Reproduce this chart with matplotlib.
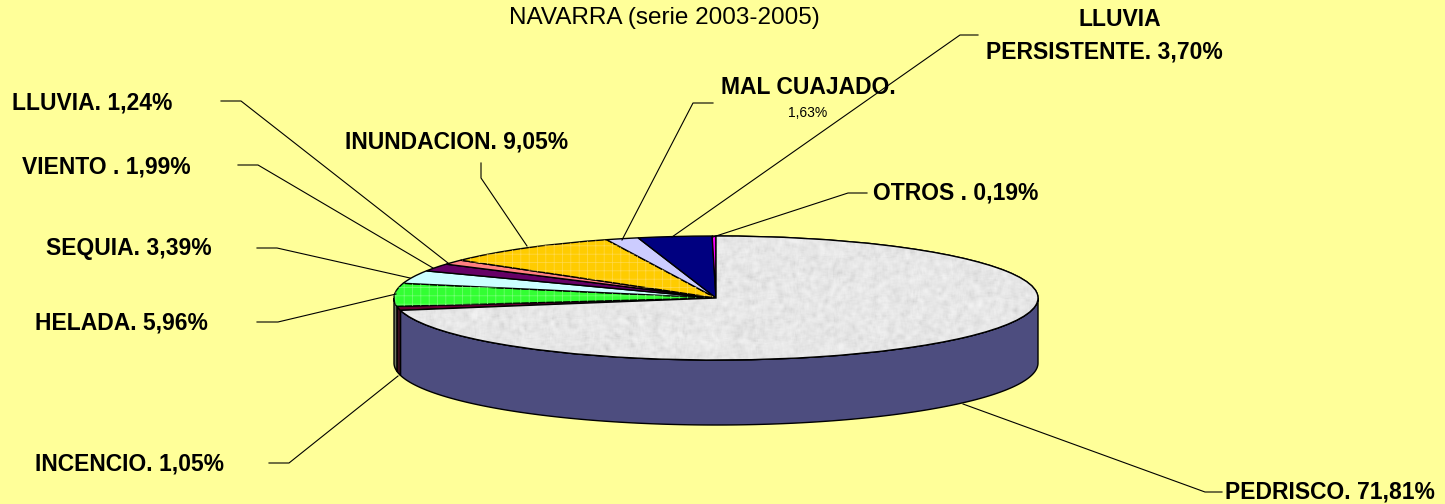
import numpy as np
import matplotlib
matplotlib.use('Agg')
import matplotlib.pyplot as plt
from matplotlib.patches import Polygon, Wedge

plt.rcParams['font.family'] = ['Liberation Sans', 'DejaVu Sans']
plt.rcParams['hatch.linewidth'] = 0.5

# data (clockwise from 12 o'clock)
categories = ['PEDRISCO', 'INCENCIO', 'HELADA', 'SEQUIA', 'VIENTO', 'LLUVIA',
              'INUNDACION', 'MAL CUAJADO', 'LLUVIA PERSISTENTE', 'OTROS']
values = [71.81, 1.05, 5.96, 3.39, 1.99, 1.24, 9.05, 1.63, 3.70, 0.19]
label_texts = ['PEDRISCO. 71,81%', 'INCENCIO. 1,05%', 'HELADA. 5,96%', 'SEQUIA. 3,39%',
               'VIENTO . 1,99%', 'LLUVIA. 1,24%', 'INUNDACION. 9,05%', 'MAL CUAJADO.',
               'LLUVIA\nPERSISTENTE. 3,70%', 'OTROS . 0,19%']
title = 'NAVARRA (serie 2003-2005)'

top_colors = ['#e6e6e6', '#660033', '#33ff33', '#ccffff', '#660066', '#ff8080',
              '#ffcc00', '#ccccff', '#000080', '#ff00ff']
side_colors = ['#4d4d7f', '#3d0f1f', '#6f7560', '#8aa0a0', '#3d003d', '#a05050',
               '#a08000', '#8080a0', '#000050', '#a000a0']

# layout in pixels (figure 1445 x 504, y from top)
W, H = 1445, 504
CX, CY, RX, RY, DEPTH = 716, 298, 322, 62, 65
BG = '#ffff99'
LABEL_SIZE = 16.5


def to_data(px, py):
    return (px - CX) / RX, (CY - py) / RY


fig = plt.figure(figsize=(W / 100, H / 100), dpi=100, facecolor=BG)
ax = fig.add_axes([0, 0, 1, 1])
ax.set_facecolor(BG)

wedges, _ = ax.pie(values, colors=top_colors, startangle=90, counterclock=False,
                   radius=1, center=(0, 0), frame=False,
                   wedgeprops=dict(edgecolor='black', linewidth=1.0))

# side walls of the front half
d = DEPTH / RY
for w, sc in zip(wedges, side_colors):
    t1, t2 = w.theta1, w.theta2
    for k in (-360, 0, 360):
        a = max(t1, 180 + k)
        b = min(t2, 360 + k)
        if b <= a:
            continue
        th = np.radians(np.linspace(a, b, 200))
        xs = np.cos(th)
        ys = np.sin(th)
        pts = np.vstack([np.column_stack([xs, ys]),
                         np.column_stack([xs[::-1], ys[::-1] - d])])
        ax.add_patch(Polygon(pts, closed=True, facecolor=sc, edgecolor='black',
                             linewidth=1.0, zorder=0.5))

# granite-like texture on the big slice
ny, nx = 130, 660
yy, xx = np.mgrid[0:ny, 0:nx]
h = np.sin(xx * 12.9898 + yy * 78.233) * 43758.5453
h = h - np.floor(h)
k = np.ones((5, 5)) / 25.0
pad = np.pad(h, 2, mode='wrap')
blur = sum(pad[i:i + ny, j:j + nx] * k[i, j] for i in range(5) for j in range(5))
blur = (blur - blur.min()) / (blur.max() - blur.min())
tex = 0.78 + 0.18 * blur ** 0.5
im = ax.imshow(tex, extent=(-1, 1, -1, 1), cmap='gray', vmin=0, vmax=1,
               aspect='auto', interpolation='bilinear', zorder=1.1)
im.set_clip_path(wedges[0])
w0 = wedges[0]
ax.add_patch(Wedge((0, 0), 1, w0.theta1, w0.theta2, facecolor='none',
                   edgecolor='black', linewidth=1.0, zorder=1.2))

# fill patterns
for idx, hc in ((2, '#77ff77'), (6, '#ffd94d')):
    w = wedges[idx]
    ax.add_patch(Wedge((0, 0), 1, w.theta1, w.theta2, facecolor='none',
                       edgecolor=hc, hatch='++', linewidth=0, zorder=1.05))

# leader lines (pixel polylines) and labels
leaders = [
    [(963, 404), (1205, 492), (1222, 492)],
    [(398, 376), (289, 463), (269, 463)],
    [(396, 294), (278, 322), (257, 322)],
    [(410, 278), (277, 248), (257, 248)],
    [(433, 268), (258, 165), (238, 165)],
    [(448, 263), (241, 101), (221, 101)],
    [(527, 246), (481, 178), (481, 163)],
    [(622, 240), (693, 103), (713, 103)],
    [(672, 237), (960, 35), (978, 35)],
    [(713, 237), (848, 193), (867, 193)],
]
label_pos = [(1225, 492), (35, 464), (35, 323), (46, 249), (22, 167), (12, 103),
             (345, 142), (721, 88), (986, 36), (873, 193)]

for pts in leaders:
    xy = np.array([to_data(*p) for p in pts])
    ax.plot(xy[:, 0], xy[:, 1], color='black', linewidth=0.8, zorder=3)

for txt, (px, py) in zip(label_texts, label_pos):
    x, y = to_data(px, py)
    if '\n' in txt:
        first, second = txt.split('\n')
        ax.text(*to_data(1120, 20), first, fontsize=LABEL_SIZE, fontweight='bold',
                ha='center', va='center', zorder=4)
        ax.text(*to_data(px, 52), second, fontsize=LABEL_SIZE, fontweight='bold',
                ha='left', va='center', zorder=4)
    else:
        ax.text(x, y, txt, fontsize=LABEL_SIZE, fontweight='bold', ha='left',
                va='center', zorder=4)

ax.text(*to_data(808, 113), '1,63%', fontsize=10, ha='center', va='center', zorder=4)
ax.text(*to_data(664, 18), title, fontsize=17.5, ha='center', va='center', zorder=4)

ax.set_aspect('auto')
ax.set_xlim((0 - CX) / RX, (W - CX) / RX)
ax.set_ylim((CY - H) / RY, CY / RY)
ax.axis('off')

fig.savefig('out.png', dpi=100, facecolor=BG)
